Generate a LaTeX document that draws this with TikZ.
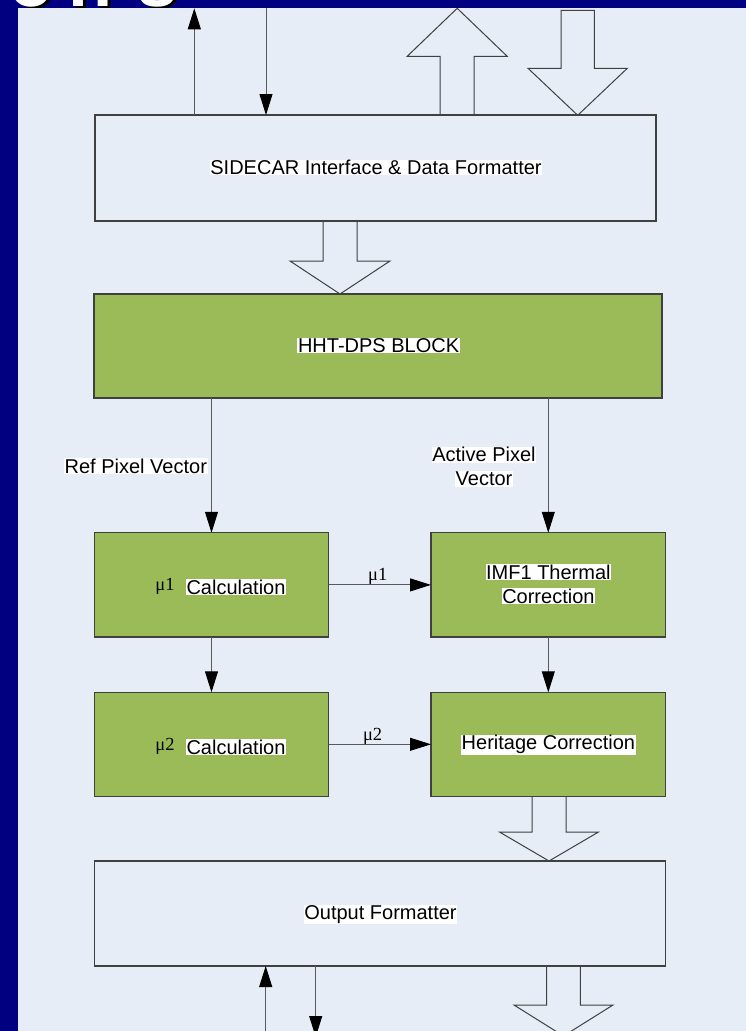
\documentclass[tikz,border=0pt]{standalone}
\usepackage{fontspec}
\setmainfont{Liberation Sans}
\newfontfamily\timesf{Liberation Serif}
\usetikzlibrary{arrows.meta,calc}
\definecolor{navybg}{RGB}{0,0,128}
\definecolor{panel}{RGB}{230,237,247}
\definecolor{boxgreen}{RGB}{155,187,89}
\definecolor{edge}{RGB}{64,64,64}
\definecolor{wirec}{RGB}{90,90,90}
\newcommand\hl[1]{{\setlength{\fboxsep}{0.6bp}\colorbox{white}{#1}}}
\newcommand\fatarr[6]{\draw[fat] (#1-#5,#2) -- (#1-#5,#3) -- (#1-#6,#3) -- (#1,#4) -- (#1+#6,#3) -- (#1+#5,#3) -- (#1+#5,#2);}
\newcommand\ttlword{\hspace*{31.5bp}\makebox[0pt]{o}\hspace*{59bp}\makebox[0pt]{n}\hspace*{66.5bp}\makebox[0pt]{s}}
\begin{document}
\begin{tikzpicture}[x=1bp,y=-1bp,
  blk/.style={rectangle, draw=edge, line width=1.3bp, inner sep=0pt, outer sep=0pt},
  plainbox/.style={blk},
  greenbox/.style={blk, fill=boxgreen},
  txt/.style={inner sep=0pt, outer sep=0pt, font=\fontsize{20bp}{24bp}\selectfont, text=black, align=center},
  mu/.style={inner sep=0pt, font=\timesf\fontsize{18.5bp}{20bp}\selectfont, text=black, anchor=base},
  wire/.style={draw=wirec, line width=1bp, -{Triangle[length=21bp,width=13bp,black]}},
  fat/.style={draw=edge, line width=1bp, line join=miter},
  ttl/.style={inner sep=0pt, anchor=base west, font=\fontsize{72bp}{72bp}\selectfont\bfseries}
]
\clip (0,0) rectangle (746,1031);
\fill[navybg] (0,0) rectangle (746,1031);
% cut-off slide title (only its lowest edge shows)
\node[ttl] (title) at (0,6) {\rlap{\raisebox{-2bp}{\hspace*{3bp}\color{black}\ttlword}}{\color{white}\ttlword}};
% panel
\fill[panel] (18,8.3) rectangle (746,1031);

% boxes
\node[plainbox, minimum width=561bp, minimum height=106bp] (sidecar) at (375.5,168) {};
\node[greenbox, minimum width=568bp, minimum height=104bp] (hht) at (378,346) {};
\node[greenbox, minimum width=234bp, minimum height=104.3bp] (mu1) at (211.5,584.9) {};
\node[greenbox, minimum width=234.6bp, minimum height=104.3bp] (imf) at (548.3,584.9) {};
\node[greenbox, minimum width=234bp, minimum height=104bp] (mu2) at (211.5,744.3) {};
\node[greenbox, minimum width=234.6bp, minimum height=104bp] (her) at (548.3,744.3) {};
\node[plainbox, minimum width=571bp, minimum height=105bp] (outf) at (380.2,913.5) {};

% texts
\node[txt] (tsid) at (376,167.5) {\hl{SIDECAR Interface \& Data Formatter}};
\node[txt] (thht) at (378.6,345.5) {\hl{HHT-DPS BLOCK}};
\node[txt] (tref) at (135.8,466.3) {\hl{Ref Pixel Vector}};
\node[txt] (tact) at (484,466.7) {\hl{Active Pixel}\\\hl{Vector}};
\node[txt] (tc1) at (236,587.3) {\hl{Calculation}};
\node[mu] (tm1) at (165,590.7) {μ1};
\node[txt] (timf) at (548.4,584.2) {\hl{IMF1 Thermal}\\\hl{Correction}};
\node[txt] (tc2) at (236,747.3) {\hl{Calculation}};
\node[mu] (tm2) at (165,750.5) {μ2};
\node[txt] (ther) at (548.4,744.7) {\hl{Heritage Correction}};
\node[txt] (tout) at (380.5,914.5) {\hl{Output Formatter}};
\node[mu] (lm1) at (377.8,580.5) {μ1};
\node[mu] (lm2) at (372.6,740) {μ2};

% thin connectors
\coordinate (tU) at (194.3,8.3);
\coordinate (tD) at (266,8.3);
\coordinate (bU) at (265.7,1031);
\coordinate (bD) at (315.7,1037);
\draw[wire] (sidecar.north -| tU) -- (tU);
\draw[wire] (tD) -- (sidecar.north -| tD);
\draw[wire] (hht.south -| mu1.north) -- (mu1.north);
\draw[wire] (hht.south -| imf.north) -- (imf.north);
\draw[wire] (mu1.east) -- (imf.west);
\draw[wire] (mu2.east) -- (her.west);
\draw[wire] (mu1.south) -- (mu2.north);
\draw[wire] (imf.south) -- (her.north);
\draw[wire] (bU) -- (outf.south -| bU);
\draw[wire] (outf.south -| bD) -- (bD);

% hollow block arrows
\fatarr{457.2}{115.3}{56.3}{8.3}{17}{50}
\draw[fat] (561,10.3) -- (561,68.3) -- (528,68.3) -- (577.7,115.3) -- (627.3,68.3) -- (594.3,68.3) -- (594.3,10.3) -- cycle;
\fatarr{340}{221}{261}{294}{17}{50}
\fatarr{549}{796.5}{832}{861}{17}{49.5}
\fatarr{563.5}{966}{1005}{1036}{16.8}{49.5}
\end{tikzpicture}
\end{document}
